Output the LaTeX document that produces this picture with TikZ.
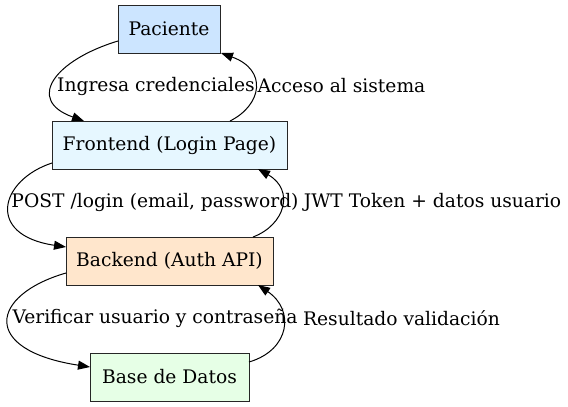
\documentclass[tikz,border=0pt]{standalone}
\usepackage{fontspec}
\setmainfont{DejaVu Serif}
\usetikzlibrary{arrows.meta}
\definecolor{cpac}{HTML}{CCE5FF}
\definecolor{cfro}{HTML}{E6F7FF}
\definecolor{cbac}{HTML}{FFE6CC}
\definecolor{cbd}{HTML}{E6FFE6}
\begin{document}
\begin{tikzpicture}[x=1pt,y=-1pt,
  box/.style={draw=black!85,line width=1pt,minimum height=48pt,inner sep=0pt,font=\fontsize{18.67}{22}\selectfont},
  lbl/.style={inner sep=0pt,font=\fontsize{18.67}{22}\selectfont},
  conn/.style={line width=1pt,-{Triangle[length=12pt,width=9pt]}}]
\useasboundingbox (0,0) rectangle (568,407);
\node[box,fill=cpac,minimum width=102pt] (pac) at (169,29) {Paciente};
\node[box,fill=cfro,minimum width=235pt] (fro) at (169.5,145) {Frontend (Login Page)};
\node[box,fill=cbac,minimum width=207pt] (bac) at (169.5,261) {Backend (Auth API)};
\node[box,fill=cbd,minimum width=159pt] (bd) at (169.5,377) {Base de Datos};
\coordinate (p1) at (118,41);
\coordinate (f1) at (84,121);
\coordinate (f2) at (230,121);
\coordinate (p2) at (221,53);
\coordinate (f3) at (52,163);
\coordinate (b1) at (66,247);
\coordinate (b2) at (253,237);
\coordinate (f4) at (258,169);
\coordinate (b3) at (66,273);
\coordinate (d1) at (90,367);
\coordinate (d2) at (249,362);
\coordinate (b4) at (258,285);
\draw[conn] (p1) .. controls (55,60) and (25,100) .. (f1);
\draw[conn] (f2) .. controls (262,105) and (268,70) .. (p2);
\draw[conn] (f3) .. controls (0,180) and (-15,235) .. (b1);
\draw[conn] (b2) .. controls (285,225) and (295,190) .. (f4);
\draw[conn] (b3) .. controls (-10,295) and (-20,350) .. (d1);
\draw[conn] (d2) .. controls (290,350) and (295,310) .. (b4);
\node[lbl] (l1) at (156,86) {Ingresa credenciales};
\node[lbl] (l2) at (341.5,86) {Acceso al sistema};
\node[lbl] (l3) at (155,202) {POST /login (email, password)};
\node[lbl] (l4) at (432.5,202) {JWT Token + datos usuario};
\node[lbl] (l5) at (155,318) {Verificar usuario y contraseña};
\node[lbl] (l6) at (401.5,318) {Resultado validación};
\end{tikzpicture}
\end{document}
